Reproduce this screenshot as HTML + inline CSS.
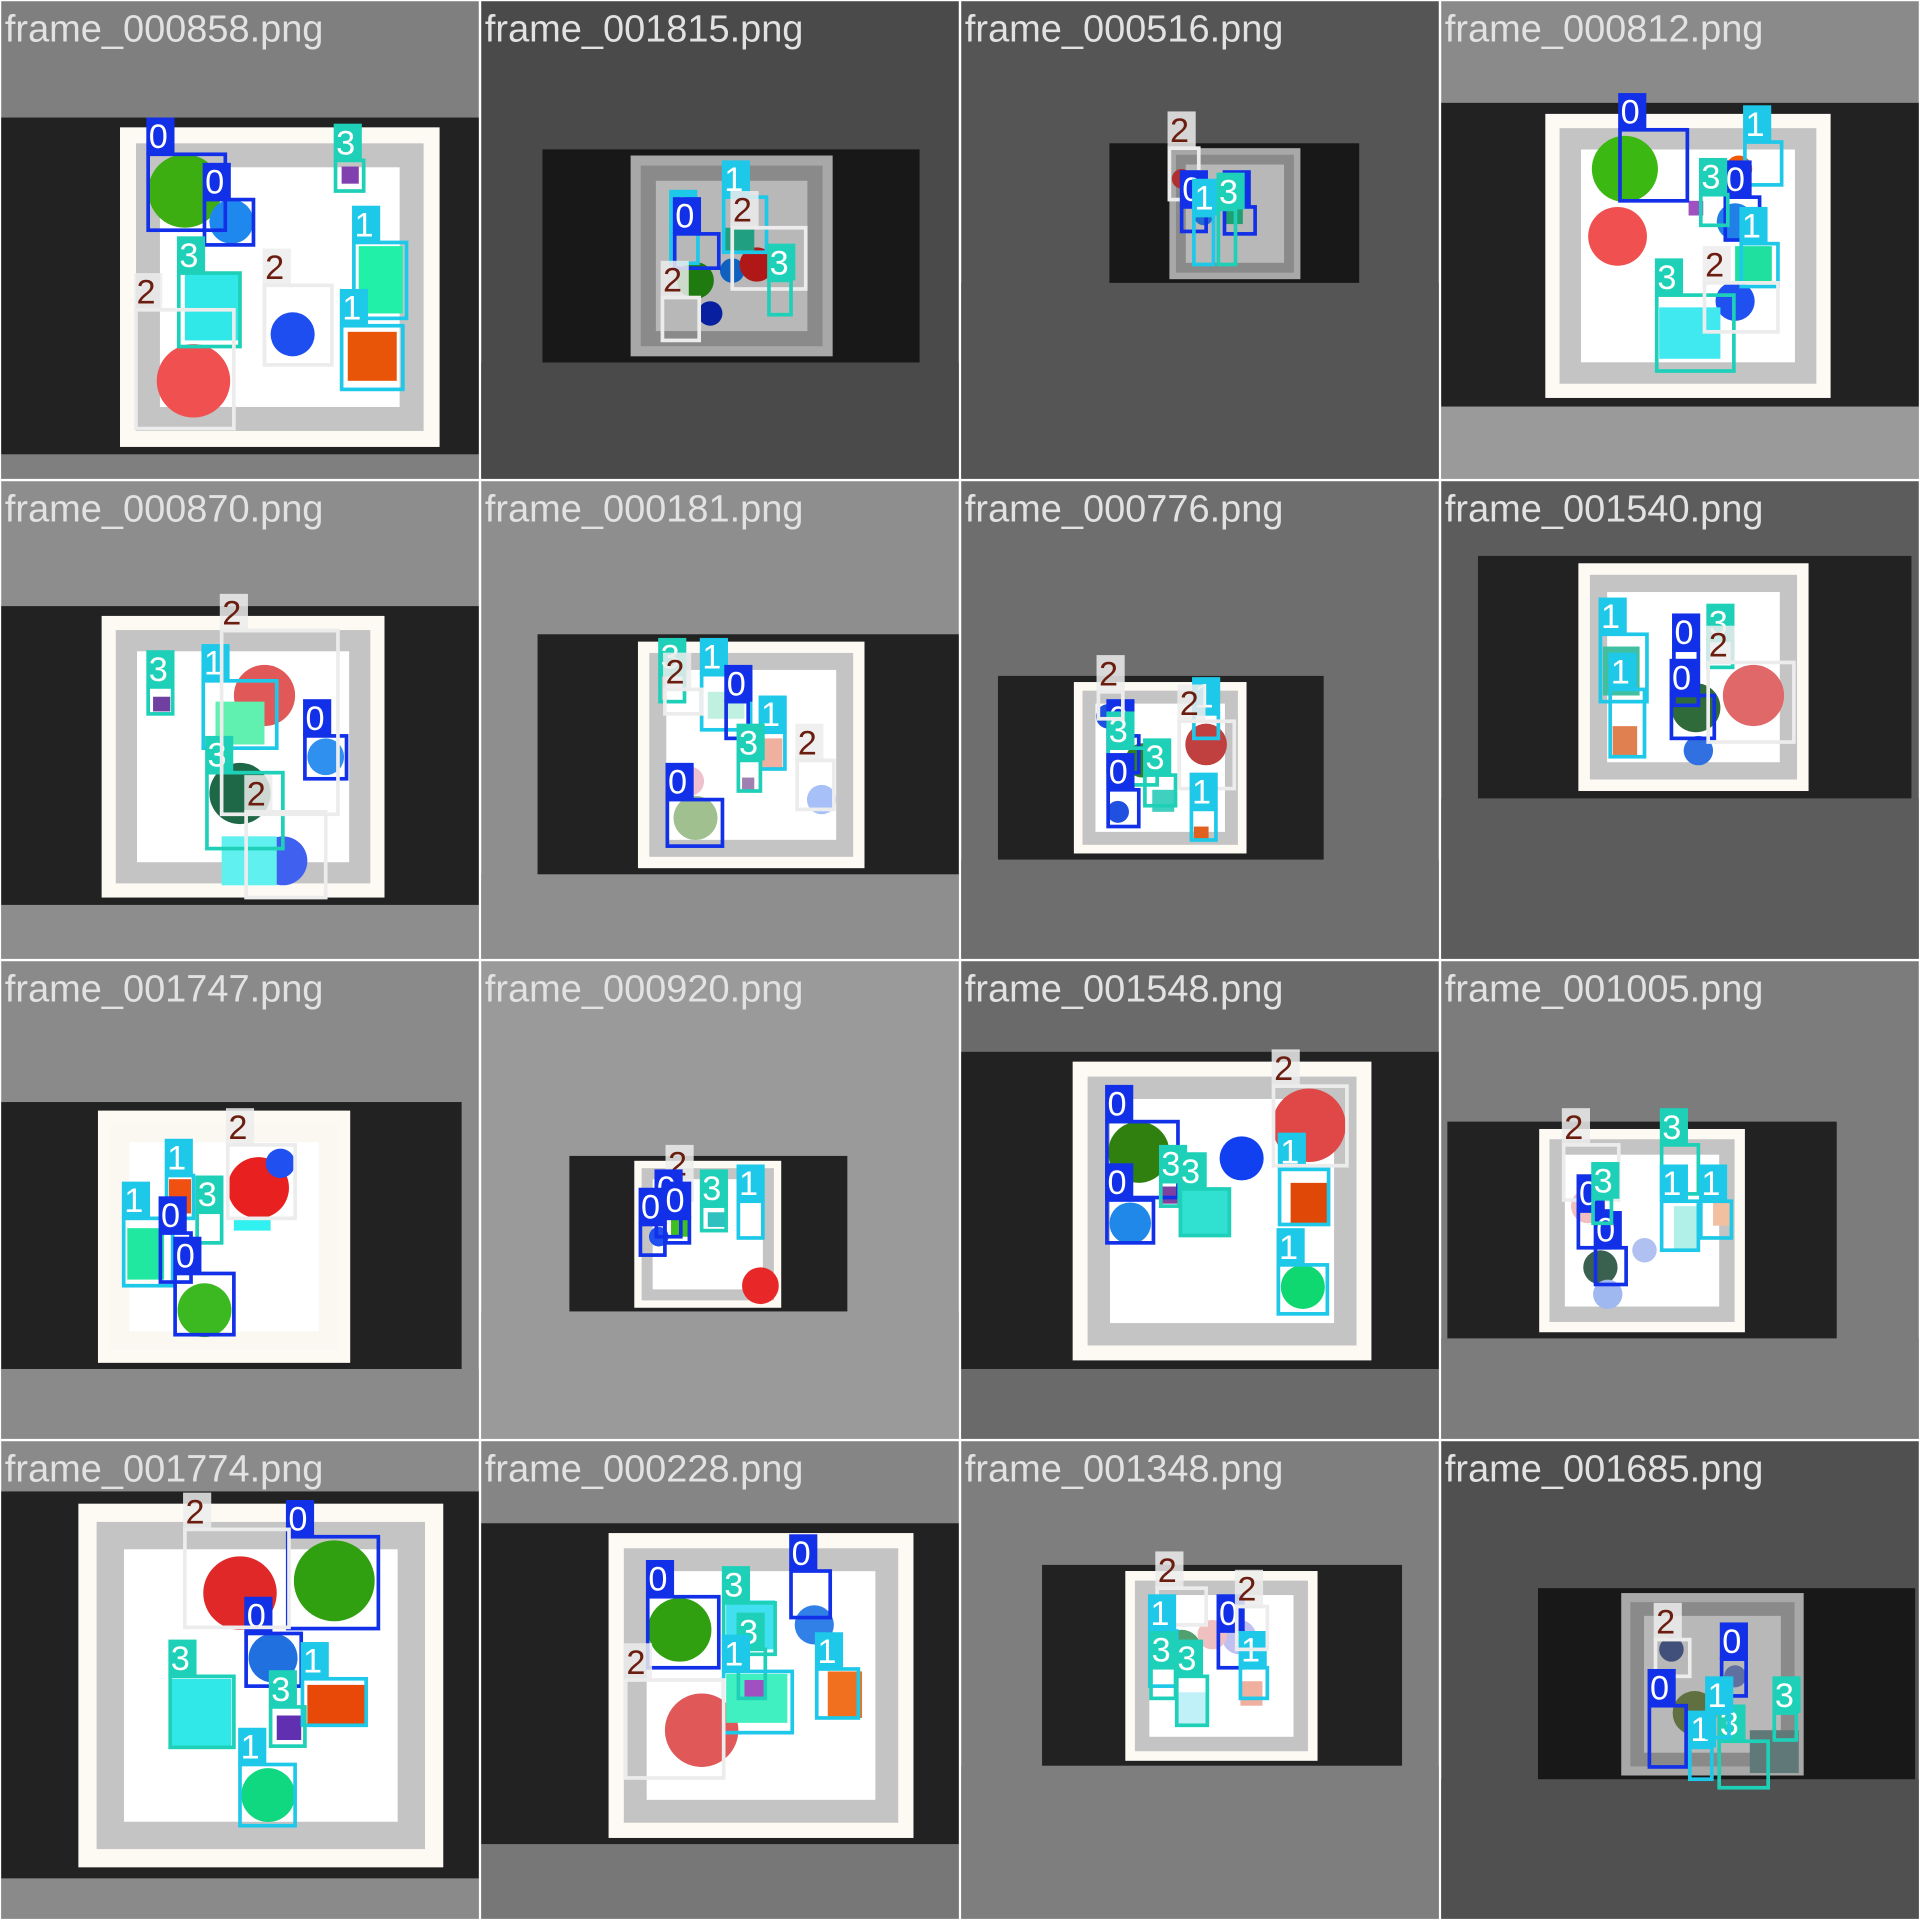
<!DOCTYPE html>
<html><head><meta charset="utf-8"><style>
html,body{margin:0;padding:0;background:#fff;}
svg{display:block;}
</style></head><body>
<svg id="grid" width="1920" height="1920" viewBox="0 0 1568 1568" xmlns="http://www.w3.org/2000/svg">
<rect x="0" y="0" width="1568" height="1568" fill="#ffffff"/>
</svg>
<script>
const titles = ["frame_000858.png","frame_001815.png","frame_000516.png","frame_000812.png",
"frame_000870.png","frame_000181.png","frame_000776.png","frame_001540.png",
"frame_001747.png","frame_000920.png","frame_001548.png","frame_001005.png",
"frame_001774.png","frame_000228.png","frame_001348.png","frame_001685.png"];
const bgTop = ["#7f7f7f","#4a4a4a","#555555","#8a8a8a","#8d8d8d","#8e8e8e","#6e6e6e","#5c5c5c",
"#8a8a8a","#9a9a9a","#6a6a6a","#7c7c7c","#8a8a8a","#858585","#7e7e7e","#505050"];
const bgBottom = ["#7f7f7f","#4a4a4a","#555555","#9a9a9a","#8d8d8d","#8e8e8e","#6e6e6e","#5c5c5c",
"#8a8a8a","#9a9a9a","#6a6a6a","#7c7c7c","#8a8a8a","#777777","#7e7e7e","#505050"];
const bands = [[0,390,95,370],[50,358,121,295],[121,325,116,230],[0,390,83,331],
[0,390,102,346],[46,390,125,321],[30,296,159,309],[30,384,61,259],
[0,376,115,333],[72,299,159,286],[0,390,74,333],[5,323,131,308],
[0,390,41,357],[0,390,67,329],[66,360,101,265],[79,387,120,276]];
const boards = [[97,103,261,261],[122,126,165,164],[170,120,107,107],[85,92,233,232],
[82,110,231,230],[128,131,185,185],[92,164,141,140],[112,67,188,186],
[79,122,206,206],[125,163,120,120],[91,82,244,244],[80,137,168,166],
[63,51,298,297],[104,75,249,249],[134,106,157,155],[147,124,149,149]];
const boardTone = ["w","g","g","w","w","w","w","w","p","w","w","w","w","w","w","g"];
const shapes = [
[0,"c",150,155,30,0,"#3cae12"],[0,"c",188,180,18,0,"#1e88ef"],[0,"c",157,310,30,0,"#f05050"],[0,"c",238,272,18,0,"#1f4ef0"],
[0,"r",283,270,40,40,"#e85508"],[0,"r",150,222,44,55,"#30e8e8"],[0,"r",292,200,36,55,"#20f0a8"],[0,"r",278,135,14,14,"#8040b0"],
[1,"c",175,228,15,0,"#1f7a10"],[1,"c",205,220,10,0,"#1060c0"],[1,"c",225,215,14,0,"#b01818"],[1,"c",187,255,10,0,"#0820a0"],[1,"r",198,185,25,20,"#20a080"],
[2,"c",180,145,8,0,"#b03030"],[2,"c",198,175,8,0,"#1f6ad0"],[2,"r",216,168,14,14,"#20a070"],
[3,"c",150,137,27,0,"#3cb812"],[3,"c",144,192,24,0,"#f05050"],[3,"c",243,137,11,0,"#f05808"],[3,"c",240,180,15,0,"#2080e8"],
[3,"c",240,245,16,0,"#2050f0"],[3,"r",178,250,50,42,"#40e8f0"],[3,"r",240,200,30,30,"#20e0a0"],[3,"r",202,163,12,12,"#a050c0"],
[4,"c",215,175,25,0,"#e05858"],[4,"c",195,255,25,0,"#1e6848"],[4,"c",265,225,15,0,"#3090f0"],[4,"c",230,310,20,0,"#4060f0"],[4,"r",175,180,40,35,"#60f0b0"],[4,"r",180,290,45,40,"#60f0f0"],[4,"r",124,176,14,12,"#7040a0"],
[5,"c",175,275,18,0,"#a0c090"],[5,"r",228,210,18,25,"#f0b0a0"],[5,"c",278,260,12,0,"#a8c0f8"],[5,"c",170,245,12,0,"#f0c0d0"],[5,"r",185,172,30,22,"#c0f0e0"],[5,"r",213,242,10,10,"#a080b0"],
[6,"c",200,215,17,0,"#c04040"],[6,"c",148,228,14,0,"#308020"],[6,"c",120,192,10,0,"#2050e0"],[6,"c",128,270,9,0,"#2050e0"],[6,"r",156,252,18,18,"#40d0c0"],[6,"r",190,282,12,10,"#e06020"],
[7,"c",255,175,25,0,"#e06868"],[7,"c",208,185,20,0,"#2f6a3a"],[7,"r",140,200,20,25,"#e08050"],[7,"r",132,135,30,40,"#40c0a0"],[7,"c",210,220,12,0,"#3070e0"],
[8,"c",210,185,25,0,"#e82020"],[8,"c",166,285,22,0,"#3cb820"],[8,"r",137,178,18,28,"#f05010"],[8,"c",228,165,12,0,"#2050f0"],[8,"r",103,218,30,42,"#20e8a0"],[8,"r",190,210,30,10,"#30f0f0"],
[9,"c",228,265,15,0,"#e82828"],[9,"r",155,210,15,15,"#40c020"],[9,"r",185,205,15,12,"#30c0c0"],[9,"c",145,225,8,0,"#2050f0"],
[10,"c",284,134,30,0,"#e04848"],[10,"c",229,161,18,0,"#1040f0"],[10,"c",145,156,25,0,"#308010"],[10,"c",138,214,17,0,"#2088e8"],[10,"r",179,186,40,38,"#30e0d0"],[10,"r",269,181,30,35,"#e04808"],[10,"c",279,266,18,0,"#10d870"],[10,"r",163,184,14,14,"#8040a0"],
[11,"c",120,200,14,0,"#f0c0c0"],[11,"c",130,250,14,0,"#3a6050"],[11,"r",190,200,20,35,"#b0f0e8"],[11,"r",222,196,15,20,"#f0c0a0"],[11,"c",166,236,10,0,"#b0c0f0"],[11,"c",136,272,12,0,"#a0b8f0"],
[12,"c",195,124,30,0,"#e02828"],[12,"c",272,114,33,0,"#30a010"],[12,"c",222,177,20,0,"#2070e0"],[12,"r",250,199,48,32,"#e84808"],[12,"r",138,194,50,55,"#30e8e8"],[12,"r",225,224,20,20,"#6030b0"],[12,"c",218,289,22,0,"#10d880"],
[13,"c",162,154,26,0,"#30a010"],[13,"c",272,150,16,0,"#3080e8"],[13,"c",180,236,30,0,"#e05858"],[13,"r",200,130,40,40,"#40e0f0"],[13,"r",200,190,50,40,"#40f0c0"],[13,"r",283,188,28,38,"#f07020"],[13,"r",215,195,16,16,"#a050c0"],
[14,"c",180,170,16,0,"#50a070"],[14,"c",227,160,14,0,"#c0c0f0"],[14,"r",175,205,25,28,"#c0f0f8"],[14,"r",228,196,18,20,"#f0b0a0"],[14,"c",205,158,12,0,"#f0c0c0"],
[15,"c",207,222,18,0,"#607040"],[15,"r",252,236,40,35,"#607878"],[15,"c",188,170,10,0,"#40507a"],[15,"c",240,192,9,0,"#6070a0"]
];
const boxes = [
[0,0,120,125,63,62],[0,0,166,162,40,37],[0,3,273,130,23,25],[0,1,288,197,43,62],[0,3,145,222,50,60],[0,2,110,252,80,97],[0,2,215,232,55,65],[0,1,278,265,50,52],
[1,1,155,184,22,30],[1,0,158,190,36,28],[1,2,148,242,30,35],[1,1,198,160,35,45],[1,2,205,185,60,50],[1,3,235,228,18,28],
[2,2,170,120,24,42],[2,0,180,168,20,20],[2,1,190,175,16,40],[2,0,215,168,25,22],[2,3,210,170,14,45],
[3,0,146,105,55,58],[3,1,248,115,30,35],[3,0,232,160,28,35],[3,1,245,198,30,35],[3,3,176,240,63,62],[3,2,215,230,60,40],[3,3,212,158,22,25],
[4,3,120,168,20,22],[4,1,165,163,60,55],[4,0,248,208,34,35],[4,3,168,238,62,62],[4,2,200,270,65,70],[4,2,180,122,95,150],
[5,3,146,158,20,22],[5,1,180,158,40,45],[5,0,200,180,18,30],[5,1,228,205,20,30],[5,3,210,228,18,25],[5,0,152,260,45,38],[5,2,150,170,30,20],[5,2,258,228,30,40],
[6,0,120,208,25,30],[6,3,120,218,40,30],[6,0,120,252,25,30],[6,3,150,240,25,25],[6,1,190,190,20,20],[6,2,178,196,45,55],[6,1,188,268,20,25],[6,2,112,172,20,22],
[7,1,130,125,38,55],[7,1,138,170,28,55],[7,0,190,138,20,45],[7,0,188,175,35,35],[7,3,218,130,20,22],[7,2,218,148,70,65],
[8,1,135,175,22,35],[8,1,100,210,40,55],[8,0,130,222,25,40],[8,3,160,205,20,25],[8,0,142,255,48,50],[8,2,185,150,55,60],
[9,2,152,180,20,15],[9,0,143,200,20,25],[9,0,130,215,20,25],[9,3,180,200,20,20],[9,1,210,196,20,30],[9,0,150,210,20,20],
[10,0,119,131,58,62],[10,0,119,195,38,35],[10,3,163,180,15,20],[10,3,179,186,40,38],[10,1,260,170,40,45],[10,1,259,248,40,40],[10,2,255,102,60,65],
[11,2,100,150,45,45],[11,3,180,150,30,40],[11,0,112,204,25,30],[11,0,126,234,25,30],[11,1,180,196,30,40],[11,1,212,196,25,30],[11,3,124,194,15,20],
[12,0,234,78,74,75],[12,0,200,157,45,43],[12,1,246,194,52,38],[12,3,138,192,52,58],[12,3,220,217,28,32],[12,1,195,264,45,50],[12,2,150,72,85,80],
[13,0,136,127,58,58],[13,3,198,132,42,42],[13,0,253,106,32,38],[13,3,210,170,22,40],[13,1,198,188,56,50],[13,1,274,186,34,40],[13,2,118,195,80,80],
[14,2,160,120,40,30],[14,1,154,155,22,45],[14,3,155,185,20,25],[14,3,176,192,25,40],[14,0,210,155,20,30],[14,1,228,185,22,25],[14,2,225,135,25,35],
[15,2,175,162,28,30],[15,0,229,178,20,30],[15,0,170,216,30,50],[15,1,203,250,18,26],[15,3,227,245,40,38],[15,3,272,222,18,22],[15,1,217,222,18,20]
];
const clsStroke = ["#1230e8","#1ec8e8","#ececec","#1ed0b8"];
const clsText = ["#ffffff","#ffffff","#6b1d10","#ffffff"];
const NS = "http://www.w3.org/2000/svg";
const svg = document.getElementById("grid");
function mk(tag, attrs, parent){const e=document.createElementNS(NS,tag);for(const k in attrs)e.setAttribute(k,attrs[k]);parent.appendChild(e);return e;}
const tones = {w:["#fdfaf4","#c4c4c4","#ffffff"], g:["#a8a8a8","#8a8a8a","#b8b8b8"], p:["#fdfaf4","#fbf8f2","#ffffff"]};
for (let i=0;i<16;i++){
  const col=i%4,row=Math.floor(i/4);
  const ox=col*392+1, oy=row*392+1;
  const g=mk("g",{transform:`translate(${ox},${oy})`},svg);
  
  
  mk("rect",{x:0,y:0,width:390,height:390,fill:bgTop[i]},g);
  const b=bands[i];
  mk("rect",{x:0,y:b[3],width:390,height:390-b[3],fill:bgBottom[i]},g);
  const band=mk("rect",{x:b[0],y:b[2],width:Math.min(b[1],390)-b[0],height:b[3]-b[2],fill:(i==1||i==2||i==15)?"#181818":"#222222"},g);
  
  
  const bd=boards[i], t=tones[boardTone[i]];
  const board=mk("rect",{x:bd[0],y:bd[1],width:bd[2],height:bd[3],fill:t[0]},g);
  
  
  const r1=bd[2]*0.05, r2=bd[2]*0.125;
  mk("rect",{x:bd[0]+r1,y:bd[1]+r1,width:bd[2]-2*r1,height:bd[3]-2*r1,fill:t[1]},g);
  mk("rect",{x:bd[0]+r2,y:bd[1]+r2,width:bd[2]-2*r2,height:bd[3]-2*r2,fill:t[2]},g);
  for (const s of shapes){ if(s[0]!==i) continue;
    let e;
    if(s[1]==="c") e=mk("circle",{cx:s[2],cy:s[3],r:s[4],fill:s[6]},g);
    else e=mk("rect",{x:s[2],y:s[3],width:s[4],height:s[5],fill:s[6]},g);
    
    
  }
  for (const bx of boxes){ if(bx[0]!==i) continue;
    const c=bx[1];
    const r=mk("rect",{x:bx[2],y:bx[3],width:bx[4],height:bx[5],fill:"none",stroke:clsStroke[c],"stroke-width":3},g);
    
    
    mk("rect",{x:bx[2]-1.5,y:bx[3]-30,width:23,height:30,fill:clsStroke[c],opacity:c===2?0.85:1},g);
    const tx=mk("text",{x:bx[2]+0.5,y:bx[3]-5,fill:clsText[c],"font-size":28,"font-family":"Liberation Sans, sans-serif"},g);
    tx.textContent=String(c);
    
    
  }
  const title=mk("text",{x:3,y:33,fill:"#e2e2e2","font-size":31,"font-family":"Liberation Sans, sans-serif"},g);
  title.textContent=titles[i];
  
  
}
</script>
</body></html>
